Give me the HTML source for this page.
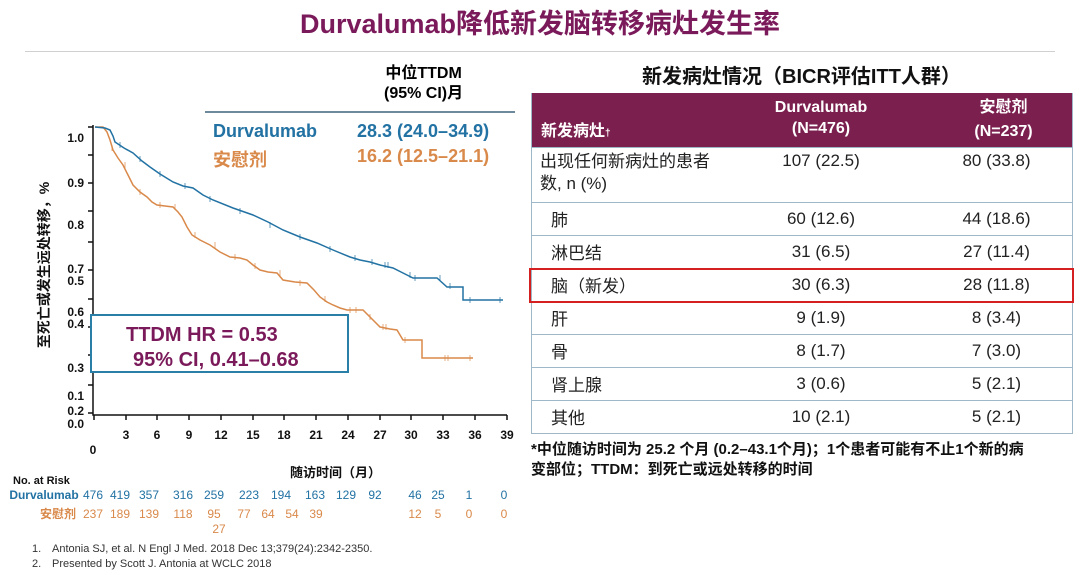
<!DOCTYPE html>
<html><head><meta charset="utf-8"><style>
body{margin:0;width:1080px;height:575px;background:#fff;overflow:hidden;position:relative;font-family:"Liberation Sans","Noto Sans CJK SC",sans-serif}
.a{position:absolute;white-space:nowrap}
table{position:absolute;left:531px;top:93px;width:541px;border-collapse:collapse;font-size:17px;color:#222;table-layout:fixed}
td{border-top:1px solid #9fb8c8;padding:0;vertical-align:middle;white-space:nowrap;overflow:visible}
tr{height:33px}
.c{text-align:center}
</style></head><body>
<div class="a" style="left:0;width:1080px;top:2px;text-align:center;font-size:27px;font-weight:bold;color:#7b1a5a">Durvalumab降低新发脑转移病灶发生率</div>
<div class="a" style="left:25px;top:51px;width:1030px;height:1px;background:#d0d0d0"></div>
<div class="a" style="left:384px;top:64px;font-size:16px;font-weight:bold;line-height:20px;text-align:center">中位TTDM<br>(95% CI)月</div>
<div class="a" style="left:205px;top:111px;width:310px;height:2px;background:#6d8a9c"></div>
<div class="a" style="left:213px;top:121px;font-size:18px;font-weight:bold;color:#2272a3">Durvalumab</div>
<div class="a" style="left:357px;top:121px;font-size:18px;font-weight:bold;color:#2272a3">28.3 (24.0–34.9)</div>
<div class="a" style="left:213px;top:146px;font-size:18px;font-weight:bold;color:#d9894a">安慰剂</div>
<div class="a" style="left:357px;top:146px;font-size:18px;font-weight:bold;color:#d9894a">16.2 (12.5–21.1)</div>
<svg class="a" style="left:0;top:0" width="530" height="575">
<g font-family="Liberation Sans" font-weight="bold" font-size="12" fill="#111" text-anchor="end">
<text x="84" y="142">1.0</text><text x="84" y="187">0.9</text><text x="84" y="229">0.8</text><text x="84" y="273">0.7</text><text x="84" y="285">0.5</text><text x="84" y="316">0.6</text><text x="84" y="328">0.4</text><text x="84" y="372">0.3</text><text x="84" y="400">0.1</text><text x="84" y="415">0.2</text><text x="84" y="428">0.0</text>
</g>
<text transform="translate(49,265) rotate(-90)" font-size="14" font-weight="bold" fill="#111" text-anchor="middle" font-family="Liberation Sans,Noto Sans CJK SC,sans-serif">至死亡或发生远处转移，%</text>
<g stroke="#111" stroke-width="1.5" fill="none">
<path d="M93 125V415H507"/>
<path d="M93 127h-5M93 155h-5M93 183h-5M93 211h-5M93 242h-5M93 270h-5M93 299h-5M93 327h-5M93 355h-5M93 385h-5M93 413h-5"/>
<path d="M94 415v5M126 415v5M157 415v5M189 415v5M221 415v5M253 415v5M284 415v5M316 415v5M348 415v5M380 415v5M411 415v5M443 415v5M475 415v5M507 415v5"/>
</g>
<g font-family="Liberation Sans" font-weight="bold" font-size="12" fill="#111" text-anchor="middle">
<text x="126" y="439">3</text><text x="157" y="439">6</text><text x="189" y="439">9</text><text x="221" y="439">12</text><text x="253" y="439">15</text><text x="284" y="439">18</text><text x="316" y="439">21</text><text x="348" y="439">24</text><text x="380" y="439">27</text><text x="411" y="439">30</text><text x="443" y="439">33</text><text x="475" y="439">36</text><text x="507" y="439">39</text><text x="93" y="454">0</text>
</g>
<polyline fill="none" stroke="#d9894a" stroke-width="1.5" points="95,127 103,127 107,132 110,140 113,150 118,158 123,165 128,175 133,185 140,192 147,197 152,202 157,205 165,206 173,207 178,212 182,217 187,227 192,235 200,240 210,245 220,252 230,257 240,258 247,260 253,265 260,270 268,272 277,273 283,280 295,282 307,283 314,290 320,297 327,302 333,305 340,308 347,310 355,310 363,310 370,317 375,322 380,327 390,329 397,330 403,340 412,340 422,340 422,358 473,358"/>
<polyline fill="none" stroke="#2272a3" stroke-width="1.5" points="95,127 105,128 110,130 113,136 115,142 124,148 133,153 142,161 150,167 160,174 173,182 183,186 193,188 203,195 213,200 233,208 253,215 268,222 283,230 300,237 317,243 333,250 350,257 360,260 370,262 380,265 393,268 403,273 413,278 425,278 437,278 447,287 455,287 463,287 463,300 503,300"/>
<g stroke="#2272a3" stroke-width="1" opacity=".7"><path d="M120 142v6M140 156v6M160 171v6M185 183v6M210 196v6M240 208v6M270 222v6M300 234v6M330 246v6M355 255v6M372 259v6M385 262v6M388 262v6M410 272v6M415 275v6M440 275v6M450 283v6M470 297v6M500 297v6"/></g>
<g stroke="#d9894a" stroke-width="1" opacity=".7"><path d="M112 145v6M125 162v6M140 189v6M160 202v6M175 204v6M195 232v6M215 242v6M235 254v6M255 263v6M280 270v6M300 280v6M325 296v6M350 307v6M356 307v6M370 314v6M383 324v6M386 324v6M405 337v6M445 355v6M448 355v6M470 355v6"/></g>
<rect x="91" y="315" width="257" height="57" fill="#fff" stroke="#2a7fa8" stroke-width="2"/>
<text x="126" y="341" font-size="20" font-weight="bold" fill="#7b1a5a" font-family="Liberation Sans">TTDM HR = 0.53</text>
<text x="133" y="366" font-size="20" font-weight="bold" fill="#7b1a5a" font-family="Liberation Sans">95% CI, 0.41–0.68</text>
<text x="290" y="477" font-size="13" font-weight="bold" fill="#111" font-family="Liberation Sans,Noto Sans CJK SC,sans-serif">随访时间（月）</text>
<text x="13" y="484" font-size="11" font-weight="bold" fill="#111" font-family="Liberation Sans">No. at Risk</text>
<g font-family="Liberation Sans,Noto Sans CJK SC,sans-serif" font-size="12" text-anchor="middle" fill="#2272a3">
<text x="44" y="499" font-weight="bold">Durvalumab</text>
<text x="93" y="499">476</text><text x="120" y="499">419</text><text x="149" y="499">357</text><text x="183" y="499">316</text><text x="214" y="499">259</text><text x="249" y="499">223</text><text x="281" y="499">194</text><text x="315" y="499">163</text><text x="346" y="499">129</text><text x="375" y="499">92</text><text x="415" y="499">46</text><text x="438" y="499">25</text><text x="469" y="499">1</text><text x="504" y="499">0</text>
</g>
<g font-family="Liberation Sans,Noto Sans CJK SC,sans-serif" font-size="12" text-anchor="middle" fill="#d9894a">
<text x="58" y="518" font-weight="bold">安慰剂</text>
<text x="93" y="518">237</text><text x="120" y="518">189</text><text x="149" y="518">139</text><text x="183" y="518">118</text><text x="214" y="518">95</text><text x="244" y="518">77</text><text x="268" y="518">64</text><text x="292" y="518">54</text><text x="316" y="518">39</text><text x="415" y="518">12</text><text x="438" y="518">5</text><text x="469" y="518">0</text><text x="504" y="518">0</text><text x="219" y="533">27</text>
</g>
<g font-family="Liberation Sans" font-size="11" fill="#333">
<text x="32" y="552">1.</text><text x="52" y="552">Antonia SJ, et al. N Engl J Med. 2018 Dec 13;379(24):2342-2350.</text>
<text x="32" y="567">2.</text><text x="52" y="567">Presented by Scott J. Antonia at WCLC 2018</text>
</g>
</svg>
<div class="a" style="left:531px;width:541px;top:60px;text-align:center;font-size:20px;font-weight:bold;color:#111">新发病灶情况（BICR评估ITT人群）</div>
<table>
<colgroup><col style="width:190px"><col style="width:200px"><col style="width:151px"></colgroup>
<tr style="background:#7b1f4e;color:#fff;font-weight:bold;height:54px"><td style="border:0;vertical-align:bottom;padding:0 0 6px 10px;font-size:16px">新发病灶<span style="font-size:10px">†</span></td><td class="c" style="border:0;line-height:21px;padding-bottom:4px;font-size:16px">Durvalumab<br>(N=476)</td><td style="border:0;text-align:center;padding-left:14px;line-height:24px;font-size:16px">安慰剂<br>(N=237)</td></tr>
<tr style="height:55px"><td style="padding-left:9px;line-height:22px;vertical-align:top;padding-top:3px">出现任何新病灶的患者<br>数, n (%)</td><td class="c" style="vertical-align:top;padding-top:3px">107 (22.5)</td><td class="c" style="vertical-align:top;padding-top:3px">80 (33.8)</td></tr>
<tr><td style="padding-left:20px">肺</td><td class="c">60 (12.6)</td><td class="c">44 (18.6)</td></tr>
<tr><td style="padding-left:20px">淋巴结</td><td class="c">31 (6.5)</td><td class="c">27 (11.4)</td></tr>
<tr><td style="padding-left:20px">脑（新发）</td><td class="c">30 (6.3)</td><td class="c">28 (11.8)</td></tr>
<tr><td style="padding-left:20px">肝</td><td class="c">9 (1.9)</td><td class="c">8 (3.4)</td></tr>
<tr><td style="padding-left:20px">骨</td><td class="c">8 (1.7)</td><td class="c">7 (3.0)</td></tr>
<tr><td style="padding-left:20px">肾上腺</td><td class="c">3 (0.6)</td><td class="c">5 (2.1)</td></tr>
<tr><td style="padding-left:20px;border-bottom:1px solid #9fb8c8">其他</td><td class="c" style="border-bottom:1px solid #9fb8c8">10 (2.1)</td><td class="c" style="border-bottom:1px solid #9fb8c8">5 (2.1)</td></tr>
</table>
<div class="a" style="left:531px;top:93px;width:540px;height:341px;border-left:1px solid #9fb8c8;border-right:1px solid #9fb8c8"></div>
<div class="a" style="left:529px;top:268px;width:541px;height:31px;border:2px solid #d42020"></div>
<div class="a" style="left:531px;top:440px;font-size:15px;font-weight:bold;line-height:20px;color:#111">*中位随访时间为 25.2 个月 (0.2–43.1个月)；1个患者可能有不止1个新的病<br>变部位；TTDM：到死亡或远处转移的时间</div>
</body></html>
